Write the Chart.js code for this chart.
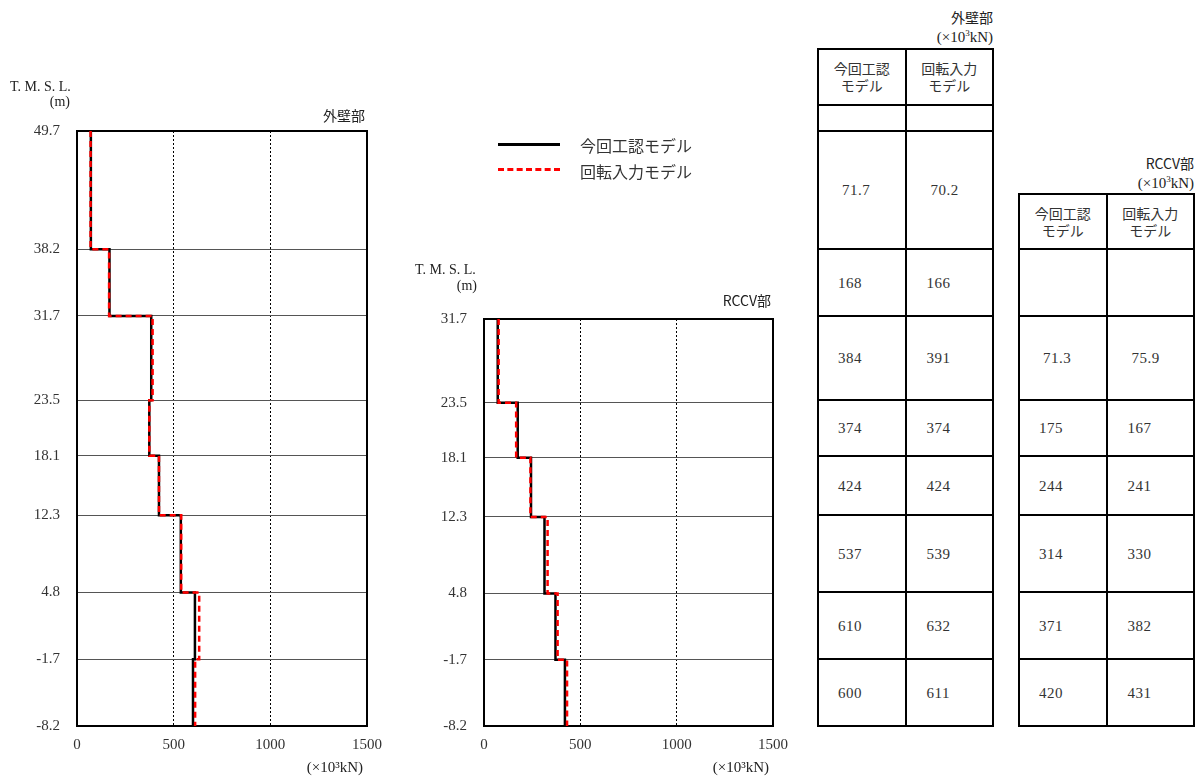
<!DOCTYPE html>
<html>
<head>
<meta charset="utf-8">
<script src="https://cdn.jsdelivr.net/npm/chart.js@4.4.1/dist/chart.umd.min.js"></script>
<style>
  body { margin: 0; background: #fff; width: 1204px; height: 780px; position: relative; overflow: hidden;
         font-family: 'Liberation Serif', 'Noto Sans CJK JP', serif; color: #222; }
  .cv { position: absolute; top: 0; }
  .txt { position: absolute; white-space: nowrap; transform: translateY(-50%); font-size: 15px; }
  .jp { font-family: 'Noto Sans CJK JP', sans-serif; }
  .ln { position: absolute; background: #000; }
  .hd { position: absolute; text-align: center; font-family: 'Noto Sans CJK JP', sans-serif;
        font-size: 14px; line-height: 17px; color: #333; transform: translateY(-50%); }
  .val { position: absolute; font-size: 15px; transform: translateY(-50%); color: #333; letter-spacing: 0.5px; }
</style>
</head>
<body>
<canvas id="wallChart" class="cv" style="left:0" width="400" height="780"></canvas>
<canvas id="rccvChart" class="cv" style="left:400px" width="400" height="780"></canvas>
<div id="extra"></div>
<script>
// levels (T.M.S.L., m) and shear values (x10^3 kN) per story, top to bottom
const wallLevels = [49.7, 38.2, 31.7, 23.5, 18.1, 12.3, 4.8, -1.7, -8.2];
const wallCurrent = [71.7, 168, 384, 374, 424, 537, 610, 600];
const wallRotation = [70.2, 166, 391, 374, 424, 539, 632, 611];

const rccvLevels = [31.7, 23.5, 18.1, 12.3, 4.8, -1.7, -8.2];
const rccvCurrent = [71.3, 175, 244, 314, 371, 420];
const rccvRotation = [75.9, 167, 241, 330, 382, 431];

const xTicks = [0, 500, 1000, 1500];
const seriesNames = ['今回工認モデル', '回転入力モデル'];

const numFont = "'Liberation Serif', 'Noto Sans CJK JP', serif";
const jpFont = "'Noto Sans CJK JP', sans-serif";

// story values -> step outline
function stepPoints(lv, vals) {
    const pts = [];
    vals.forEach((v, i) => {
        pts.push({ x: v, y: lv[i] });
        pts.push({ x: v, y: lv[i + 1] });
    });
    return pts;
}

// frame round the plot area
const framePlugin = {
    id: 'frame',
    beforeDatasetsDraw(chart) {
        const a = chart.chartArea, ctx = chart.ctx;
        ctx.save();
        ctx.strokeStyle = '#000';
        ctx.lineWidth = 2;
        ctx.strokeRect(a.left, a.top, a.right - a.left, a.bottom - a.top);
        ctx.restore();
    }
};

// titles and axis notes placed from the chart area
const notesPlugin = {
    id: 'notes',
    afterDraw(chart, args, opts) {
        const a = chart.chartArea, ctx = chart.ctx;
        ctx.save();
        ctx.fillStyle = '#222';
        ctx.textBaseline = 'middle';
        (opts.items || []).forEach(it => {
            ctx.font = (it.size || 14) + 'px ' + (it.jp ? jpFont : numFont);
            ctx.textAlign = it.align;
            const x = it.from === 'right' ? a.right + it.dx : it.dx;
            const y = it.fromBottom ? a.bottom + it.dy : a.top + it.dy;
            ctx.fillText(it.text, x, y);
        });
        ctx.restore();
    }
};

function makeChart(id, lv, cur, rot, o) {
    return new Chart(document.getElementById(id), {
        type: 'line',
        data: {
            datasets: [{
                label: seriesNames[1],
                data: stepPoints(lv, rot),
                borderColor: '#ff0000',
                borderWidth: 2.5,
                borderDash: [6, 4],
                pointRadius: 0,
                tension: 0,
                order: 0
            }, {
                label: seriesNames[0],
                data: stepPoints(lv, cur),
                borderColor: '#000',
                borderWidth: 2.5,
                pointRadius: 0,
                tension: 0,
                order: 1
            }]
        },
        options: {
            responsive: false,
            animation: false,
            layout: { padding: { top: o.top, right: o.right, left: 0, bottom: 0 } },
            plugins: {
                legend: { display: false },
                tooltip: { enabled: false },
                notes: { items: o.notes }
            },
            scales: {
                x: {
                    type: 'linear', min: 0, max: 1500,
                    afterBuildTicks: s => { s.ticks = xTicks.map(v => ({ value: v })); },
                    afterFit: s => { s.height = 54; },
                    grid: {
                        drawTicks: false, lineWidth: 1,
                        color: c => (c.tick && c.tick.value > 0 && c.tick.value < 1500) ? '#000' : 'rgba(0,0,0,0)'
                    },
                    border: { display: false, dash: [2, 2] },
                    ticks: { color: '#333', font: { family: numFont, size: 15 }, padding: 10, maxRotation: 0,
                             callback: v => String(v) }
                },
                y: {
                    type: 'linear', min: lv[lv.length - 1], max: lv[0],
                    afterBuildTicks: s => { s.ticks = lv.map(v => ({ value: v })); },
                    afterFit: s => { s.width = o.axisW; },
                    grid: { drawTicks: false, color: '#555', lineWidth: 1 },
                    border: { display: false },
                    ticks: { color: '#333', font: { family: numFont, size: 15 }, padding: 17, callback: v => v.toFixed(1) }
                }
            }
        },
        plugins: [framePlugin, notesPlugin]
    });
}

const wallChart = makeChart('wallChart', wallLevels, wallCurrent, wallRotation, {
    top: 131, right: 33, axisW: 77,
    notes: [
        { text: 'T. M. S. L.', dx: 10, dy: -44, align: 'left' },
        { text: '(m)', dx: 70, dy: -29, align: 'right' },
        { text: '外壁部', from: 'right', dx: -2, dy: -15, align: 'right', jp: true },
        { text: '(×10³kN)', from: 'right', dx: -4, dy: 42, fromBottom: true, align: 'right', size: 15 }
    ]
});

const rccvChart = makeChart('rccvChart', rccvLevels, rccvCurrent, rccvRotation, {
    top: 319, right: 27, axisW: 84,
    notes: [
        { text: 'T. M. S. L.', dx: 15, dy: -49, align: 'left' },
        { text: '(m)', dx: 77, dy: -33, align: 'right' },
        { text: 'RCCV部', from: 'right', dx: -2, dy: -18, align: 'right', jp: true },
        { text: '(×10³kN)', from: 'right', dx: -4, dy: 42, fromBottom: true, align: 'right', size: 15 }
    ]
});

/* ============================
   Legend and value tables
   ============================ */
const extra = document.getElementById('extra');
function add(cls, css, html) {
    const d = document.createElement('div');
    d.className = cls;
    Object.assign(d.style, css);
    if (html !== undefined) d.innerHTML = html;
    extra.appendChild(d);
    return d;
}

// legend
add('ln', { left: '498px', top: '143px', width: '62px', height: '3px' });
add('', { position: 'absolute', left: '498px', top: '168px', width: '62px', height: '0', borderTop: '3px dashed #ff0000' });
add('txt jp', { left: '580px', top: '145px', fontSize: '16px', color: '#333' }, seriesNames[0]);
add('txt jp', { left: '580px', top: '171px', fontSize: '16px', color: '#333' }, seriesNames[1]);

const py = v => wallChart.scales.y.getPixelForValue(v);

function buildTable(x0, colW, headTop, edges, rows, title, titleY) {
    const x1 = x0 + colW, x2 = x0 + 2 * colW;
    const bottom = edges[edges.length - 1];
    const right = 1204 - x2;
    add('txt jp', { right: right + 'px', top: titleY + 'px', color: '#222', fontSize: '14px' }, title);
    add('txt', { right: right + 'px', top: (titleY + 20) + 'px', color: '#222' }, '(×10<sup style="font-size:9px">3</sup>kN)');
    [headTop].concat(edges).forEach(y => {
        add('ln', { left: (x0 - 1) + 'px', top: (y - 1) + 'px', width: (x2 - x0 + 2) + 'px', height: '2px' });
    });
    [x0, x1, x2].forEach(x => {
        add('ln', { left: (x - 1) + 'px', top: (headTop - 1) + 'px', width: '2px', height: (bottom - headTop + 2) + 'px' });
    });
    const hMid = (headTop + edges[0]) / 2;
    add('hd', { left: x0 + 'px', width: colW + 'px', top: hMid + 'px' }, '今回工認<br>モデル');
    add('hd', { left: x1 + 'px', width: colW + 'px', top: hMid + 'px' }, '回転入力<br>モデル');
    rows.forEach((r, i) => {
        const mid = (edges[i] + edges[i + 1]) / 2;
        // decimals sit a little further in, as in the source table
        const pad = r[0].indexOf('.') >= 0 ? 24 : 20;
        if (r[0] !== '') add('val', { left: (x0 + pad) + 'px', top: mid + 'px' }, r[0]);
        if (r[1] !== '') add('val', { left: (x1 + pad + 1) + 'px', top: mid + 'px' }, r[1]);
    });
}

// 外壁部 table: header, blank row, then one row per story
const wallEdges = [105].concat(wallLevels.map(py));
const wallRows = [['', '']].concat(wallCurrent.map((v, i) => [String(v), String(wallRotation[i])]));
buildTable(818, 87.5, 49, wallEdges, wallRows, '外壁部', 17);

// RCCV部 table: rows follow the 外壁部 story lines from 38.2 down
const rccvEdges = [py(38.2)].concat(rccvLevels.map(py));
const rccvRows = [['', '']].concat(rccvCurrent.map((v, i) => [String(v), String(rccvRotation[i])]));
buildTable(1019, 87.5, 194, rccvEdges, rccvRows, 'RCCV部', 163);
</script>
</body>
</html>
